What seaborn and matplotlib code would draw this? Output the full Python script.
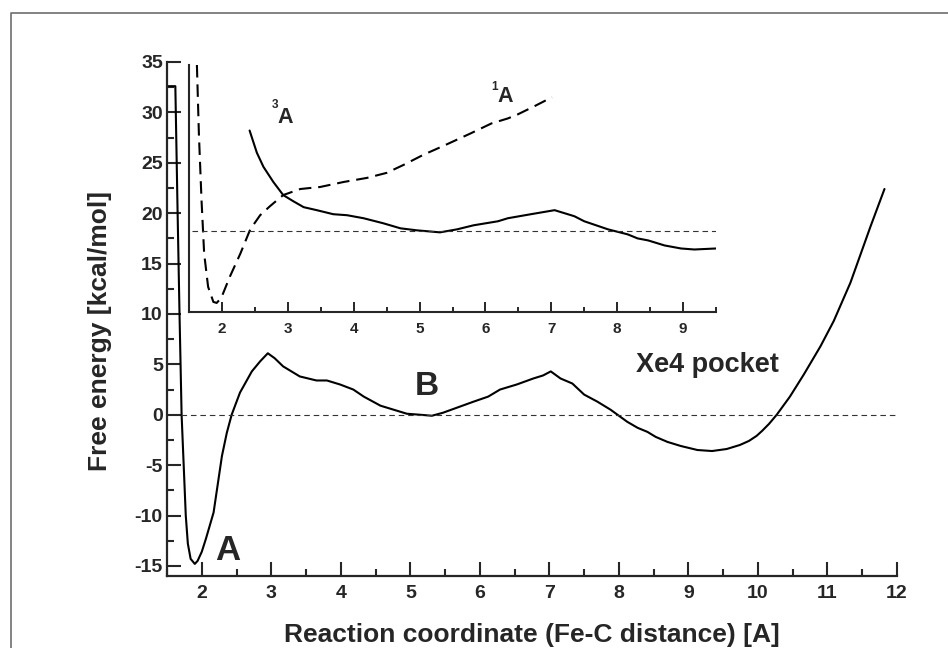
import numpy as np
import matplotlib
matplotlib.use('Agg')
import matplotlib.pyplot as plt
from matplotlib.ticker import MultipleLocator
import seaborn as sns

# Free energy profile along Fe-C distance (main panel)
main_x = [1.52, 1.62, 1.65, 1.68, 1.71, 1.74, 1.77, 1.80, 1.84, 1.90, 1.94, 2.00,
          2.06, 2.17, 2.29, 2.36, 2.43, 2.55, 2.72, 2.84, 2.95, 3.05, 3.17, 3.41,
          3.65, 3.80, 3.99, 4.18, 4.33, 4.57, 4.76, 4.95, 5.14, 5.31, 5.47, 5.67,
          5.91, 6.12, 6.29, 6.53, 6.77, 6.91, 7.02, 7.16, 7.33, 7.50, 7.69, 7.88,
          7.98, 8.12, 8.27, 8.41, 8.53, 8.70, 8.89, 9.13, 9.34, 9.55, 9.74, 9.87,
          9.98, 10.06, 10.16, 10.27, 10.46, 10.66, 10.90, 11.09, 11.33, 11.62, 11.82]
main_y = [32.6, 32.6, 21.0, 10.0, 0.0, -5.0, -10.0, -12.8, -14.3, -14.8, -14.5, -13.6,
          -12.3, -9.7, -4.1, -1.8, 0.0, 2.2, 4.3, 5.3, 6.1, 5.6, 4.8, 3.8,
          3.4, 3.4, 3.0, 2.5, 1.8, 0.9, 0.5, 0.1, 0.0, -0.1, 0.2, 0.7,
          1.3, 1.8, 2.5, 3.0, 3.6, 3.9, 4.3, 3.6, 3.1, 2.0, 1.3, 0.5,
          0.0, -0.7, -1.3, -1.7, -2.2, -2.7, -3.1, -3.5, -3.6, -3.4, -3.0, -2.6,
          -2.1, -1.6, -0.9, 0.0, 1.8, 4.0, 6.8, 9.3, 13.1, 18.7, 22.4]

# inset: triplet (solid) and singlet (dashed) surfaces
triplet_x = [2.42, 2.53, 2.63, 2.78, 2.93, 3.08, 3.24, 3.44, 3.69, 3.90, 4.15, 4.45,
             4.71, 4.96, 5.31, 5.57, 5.82, 6.19, 6.34, 6.69, 7.05, 7.35, 7.50, 7.86,
             8.16, 8.31, 8.47, 8.72, 8.97, 9.17, 9.50]
triplet_y = [28.2, 26.0, 24.6, 23.1, 21.8, 21.2, 20.6, 20.3, 19.9, 19.8, 19.5, 19.0,
             18.5, 18.3, 18.1, 18.4, 18.8, 19.2, 19.5, 19.9, 20.3, 19.7, 19.2, 18.4,
             17.9, 17.5, 17.3, 16.8, 16.5, 16.4, 16.5]
singlet_x = [1.62, 1.65, 1.69, 1.73, 1.79, 1.87, 1.92, 1.99, 2.12, 2.28, 2.43, 2.58,
             2.73, 2.93, 3.19, 3.49, 3.85, 4.20, 4.50, 4.76, 5.06, 5.37, 5.77, 6.09,
             6.34, 6.49, 6.74, 7.01]
singlet_y = [34.7, 27.9, 21.3, 16.0, 12.7, 11.2, 11.1, 11.6, 13.7, 16.0, 18.4, 19.8,
             20.7, 21.8, 22.4, 22.6, 23.1, 23.5, 24.0, 24.8, 25.8, 26.7, 27.9, 28.9,
             29.4, 29.8, 30.6, 31.5]

zero_level = 0.0
triplet_ref = 18.2

sns.set_style('ticks')
plt.rcParams['font.family'] = ['Liberation Sans', 'DejaVu Sans']
plt.rcParams['font.weight'] = 'bold'
plt.rcParams['axes.unicode_minus'] = False

fig = plt.figure(figsize=(9.48, 6.48), dpi=100)
W, H = 948, 648

def px_box(l, r, t, b):
    return [l / W, 1 - b / H, (r - l) / W, (b - t) / H]

ax = fig.add_axes(px_box(167, 897, 62, 576))
sns.lineplot(x=main_x, y=main_y, ax=ax, color='black', lw=1.5, sort=False, estimator=None)
ax.hlines(zero_level, 1.7, 12, colors='#333333', lw=0.8, linestyles=(0, (5, 3.5)))
ax.set_xlim(1.5, 12)
ax.set_ylim(-16, 35)
ax.xaxis.set_major_locator(MultipleLocator(1))
ax.xaxis.set_minor_locator(MultipleLocator(0.5))
ax.set_yticks(np.arange(-15, 36, 5))
ax.set_yticks(np.arange(-12.5, 35, 5), minor=True)
for s in ['top', 'right']:
    ax.spines[s].set_visible(False)
for s in ['left', 'bottom']:
    ax.spines[s].set_linewidth(1.6)
ax.tick_params(which='major', direction='in', length=10, width=1.5, labelsize=14)
ax.tick_params(which='minor', direction='in', length=5, width=1.5)
ax.tick_params(axis='x', which='major', pad=6.5)
ax.tick_params(axis='y', which='major', pad=3)
for lab in ax.get_xticklabels() + ax.get_yticklabels():
    lab.set_fontweight('bold')
ax.set_xlabel('Reaction coordinate (Fe-C distance) [A]', fontsize=19, fontweight='bold', labelpad=15)
ax.set_ylabel('Free energy [kcal/mol]', fontsize=19, fontweight='bold')
ax.yaxis.set_label_coords(-0.075, 0.477)

ax.text(2.19, -14.4, 'A', fontsize=25, fontweight='bold', ha='left', va='baseline')
ax.text(5.07, 2.0, 'B', fontsize=24, fontweight='bold', ha='left', va='baseline')
ax.text(8.24, 4.2, 'Xe4 pocket', fontsize=19.5, fontweight='bold', ha='left', va='baseline')

# inset
ins = fig.add_axes(px_box(189, 716, 65, 312))
ins.patch.set_visible(False)
sns.lineplot(x=triplet_x, y=triplet_y, ax=ins, color='black', lw=1.5, sort=False, estimator=None)
sns.lineplot(x=singlet_x, y=singlet_y, ax=ins, color='black', lw=1.5, sort=False,
             estimator=None, linestyle=(0, (6, 3.3)))
ins.hlines(triplet_ref, 1.55, 9.5, colors='#333333', lw=0.8, linestyles=(0, (5, 3.5)))
ins.set_xlim(1.5, 9.5)
ins.set_ylim(10.2, 34.7)
ins.xaxis.set_major_locator(MultipleLocator(1))
ins.xaxis.set_minor_locator(MultipleLocator(0.5))
ins.set_yticks([])
for s in ['top', 'right']:
    ins.spines[s].set_visible(False)
for s in ['left', 'bottom']:
    ins.spines[s].set_linewidth(1.5)
ins.tick_params(axis='x', which='major', direction='in', length=7, width=1.4, labelsize=11, pad=7)
ins.tick_params(axis='x', which='minor', direction='in', length=3.5, width=1.4)
for lab in ins.get_xticklabels():
    lab.set_fontweight('bold')

ins.text(2.85, 28.95, 'A', fontsize=15.5, fontweight='bold', ha='left', va='baseline')
ins.text(2.86, 30.4, '3', fontsize=8.5, fontweight='bold', ha='right', va='baseline')
ins.text(6.19, 31.06, 'A', fontsize=15.5, fontweight='bold', ha='left', va='baseline')
ins.text(6.19, 32.2, '1', fontsize=8.5, fontweight='bold', ha='right', va='baseline')

# outer frame (only left and top edges fall inside the image)
fx = 10.5 / W
fy = 1 - 12.5 / H
fig.add_artist(plt.Line2D([fx, fx, 1.0], [0.0, fy, fy], transform=fig.transFigure,
                          color='#6e6e6e', lw=1.2))

fig.savefig('out.png', dpi=100)
